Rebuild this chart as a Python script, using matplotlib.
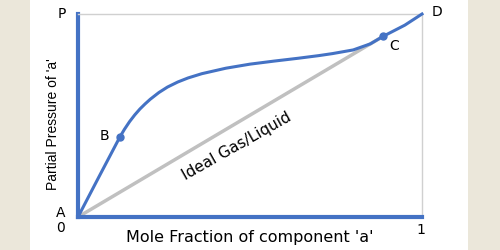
import matplotlib.pyplot as plt
from matplotlib.patches import Rectangle

plt.rcParams['font.family'] = ['DejaVu Sans']

# Real-solution curve (partial pressure of 'a' vs mole fraction)
mole_frac = [0, 0.06, 0.122, 0.135, 0.15, 0.165, 0.18, 0.195, 0.21, 0.235, 0.26,
             0.29, 0.32, 0.36, 0.43, 0.5, 0.57, 0.64, 0.70, 0.74, 0.80, 0.85,
             0.887, 0.95, 1.0]
pressure = [0, 0.195, 0.395, 0.432, 0.47, 0.503, 0.532, 0.557, 0.58, 0.613, 0.64,
            0.665, 0.685, 0.706, 0.733, 0.753, 0.768, 0.782, 0.795, 0.805, 0.823, 0.853,
            0.89, 0.945, 1.0]

# Ideal line, A -> C
ideal_x = [0, 0.887]
ideal_y = [0, 0.89]

# Marked points B and C
marked_x = [0.122, 0.887]
marked_y = [0.395, 0.89]

blue = '#4472c4'
gray = '#c0c0c0'
beige = '#ebe7da'

fig = plt.figure(figsize=(5, 2.5), dpi=100, facecolor=beige)
fig.patches.append(Rectangle((30 / 500, 0), 438 / 500, 1, transform=fig.transFigure,
                             facecolor='white', edgecolor='none', zorder=-10))

ax = fig.add_axes([78 / 500, 33 / 250, 344 / 500, 203 / 250])
ax.set_zorder(5)
ax.set_facecolor('white')
ax.set_xlim(0, 1)
ax.set_ylim(0, 1)

ax.plot(ideal_x, ideal_y, color=gray, lw=2.5, solid_capstyle='butt', zorder=2)
ax.plot(mole_frac, pressure, color=blue, lw=2.2, zorder=3, clip_on=False)
ax.plot(marked_x, marked_y, 'o', color=blue, ms=5, zorder=4, clip_on=False)

for side in ['left', 'bottom']:
    ax.spines[side].set_color(blue)
    ax.spines[side].set_linewidth(3)
for side in ['top', 'right']:
    ax.spines[side].set_color('#d0d0d0')
    ax.spines[side].set_linewidth(1)
ax.set_xticks([])
ax.set_yticks([])

fs = 10
ax.text(-0.047, 1.0, 'P', ha='center', va='center', fontsize=fs)
ax.text(1.044, 1.01, 'D', ha='center', va='center', fontsize=fs)
ax.text(0.919, 0.842, 'C', ha='center', va='center', fontsize=fs)
ax.text(0.076, 0.40, 'B', ha='center', va='center', fontsize=fs)
ax.text(-0.05, 0.022, 'A', ha='center', va='center', fontsize=fs)
ax.text(-0.05, -0.054, '0', ha='center', va='center', fontsize=fs)
ax.text(0.996, -0.064, '1', ha='center', va='center', fontsize=fs)
ax.text(0.462, 0.347, 'Ideal Gas/Liquid', rotation=29.5, rotation_mode='anchor',
        ha='center', va='center', fontsize=11)

ax.set_xlabel("Mole Fraction of component 'a'", fontsize=11.5, va='center')
ax.xaxis.set_label_coords(0.5, -0.103)
ax.set_ylabel("Partial Pressure of 'a'", fontsize=10, va='center',
              family='Liberation Sans')
ax.yaxis.set_label_coords(-0.073, 0.456)

fig.savefig('out.png', dpi=100, facecolor=beige)
